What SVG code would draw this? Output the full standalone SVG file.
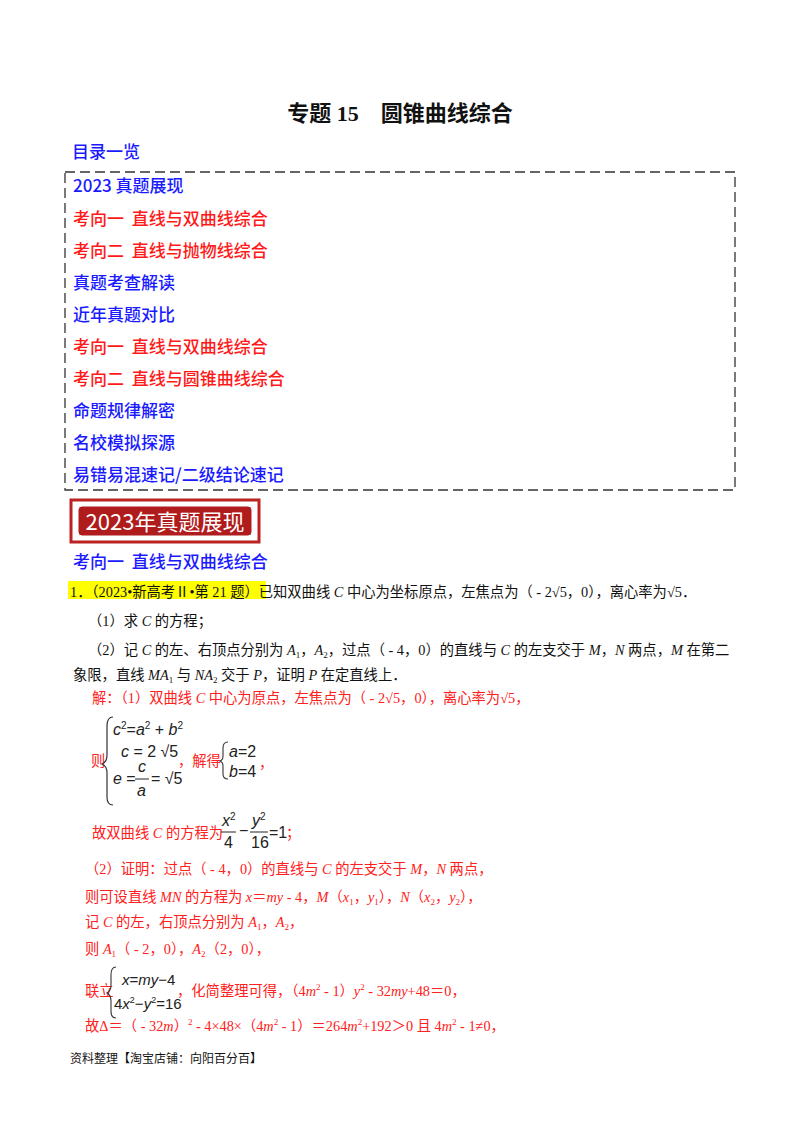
<svg xmlns="http://www.w3.org/2000/svg" width="800" height="1132" viewBox="0 0 800 1132">
<style>
text{font-family:"Liberation Serif","Noto Sans CJK SC",serif;}
.h{font-family:"Noto Sans CJK SC",sans-serif;font-size:17px;font-weight:500}
.b{fill:#1a1aff}.r{fill:#ff1a1a}
.t{font-size:14.3px;fill:#111}
.s{font-size:14.3px;fill:#ff2020}
.m{font-family:"Liberation Sans",sans-serif;font-size:16px;fill:#222}
.i{font-style:italic}
</style>
<rect width="800" height="1132" fill="#fff"/>
<g id="title"><text x="400" y="121" text-anchor="middle" style="font-family:'Liberation Serif','Noto Sans CJK SC',serif;font-size:22px;font-weight:bold" fill="#111">专题 15　圆锥曲线综合</text></g>
<g id="toc">
<text x="72" y="158" class="h b">目录一览</text>
<rect x="65" y="172" width="670" height="318" fill="none" stroke="#333" stroke-width="1.3" stroke-dasharray="10,5"/>
<text x="73" y="192" class="h b">2023 真题展现</text>
<text x="73" y="225" class="h r" xml:space="preserve">考向一  直线与双曲线综合</text>
<text x="73" y="257" class="h r" xml:space="preserve">考向二  直线与抛物线综合</text>
<text x="73" y="289" class="h b">真题考查解读</text>
<text x="73" y="321" class="h b">近年真题对比</text>
<text x="73" y="353" class="h r" xml:space="preserve">考向一  直线与双曲线综合</text>
<text x="73" y="385" class="h r" xml:space="preserve">考向二  直线与圆锥曲线综合</text>
<text x="73" y="417" class="h b">命题规律解密</text>
<text x="73" y="449" class="h b">名校模拟探源</text>
<text x="73" y="481" class="h b">易错易混速记/二级结论速记</text>
</g>
<g id="banner">
<rect x="71" y="500" width="188" height="42" fill="#fff" stroke="#b22" stroke-width="3"/>
<rect x="78" y="506" width="174" height="30" rx="4" fill="#b01c1c" stroke="#fff" stroke-width="1"/>
<text x="165" y="530" text-anchor="middle" style="font-family:'Noto Sans CJK SC',sans-serif;font-size:22px" fill="#fff">2023年真题展现</text>
</g>
<text x="73" y="568" class="h b" xml:space="preserve">考向一  直线与双曲线综合</text>
<g id="problem">
<rect x="68" y="581" width="198" height="18" fill="#ffff00"/>
<text x="70" y="597" class="t">1．（2023•新高考Ⅱ•第 21 题）已知双曲线 <tspan class="i">C</tspan> 中心为坐标原点，左焦点为（ - 2√5，0），离心率为√5．</text>
<text x="88" y="626" class="t">（1）求 <tspan class="i">C</tspan> 的方程；</text>
<text x="88" y="655" class="t">（2）记 <tspan class="i">C</tspan> 的左、右顶点分别为 <tspan class="i">A</tspan><tspan font-size="9" dy="3">1</tspan><tspan dy="-3">，</tspan><tspan class="i">A</tspan><tspan font-size="9" dy="3">2</tspan><tspan dy="-3">，过点（ - 4，0）的直线与 </tspan><tspan class="i">C</tspan> 的左支交于 <tspan class="i">M</tspan>，<tspan class="i">N</tspan> 两点，<tspan class="i">M</tspan> 在第二</text>
<text x="73" y="680" class="t">象限，直线 <tspan class="i">MA</tspan><tspan font-size="9" dy="3">1</tspan><tspan dy="-3"> 与 </tspan><tspan class="i">NA</tspan><tspan font-size="9" dy="3">2</tspan><tspan dy="-3"> 交于 </tspan><tspan class="i">P</tspan>，证明 <tspan class="i">P</tspan> 在定直线上．</text>
</g>
<g id="solution">
<text x="92" y="703" class="s">解：（1）双曲线 <tspan class="i">C</tspan> 中心为原点，左焦点为（ - 2√5，0），离心率为√5，</text>
<text x="91" y="766" class="s">则</text>
<path d="M113,717 Q107,717 107,726 L107,755 Q107,762 102,764 Q107,766 107,773 L107,797 Q107,805 113,805" fill="none" stroke="#333" stroke-width="1.2"/>
<text x="113" y="735" class="m"><tspan class="i">c</tspan><tspan font-size="10" dy="-6">2</tspan><tspan dy="6">=</tspan><tspan class="i">a</tspan><tspan font-size="10" dy="-6">2</tspan><tspan dy="6"> + </tspan><tspan class="i">b</tspan><tspan font-size="10" dy="-6">2</tspan></text>
<text x="121" y="757" class="m"><tspan class="i">c</tspan> = 2 √5</text>
<text x="113" y="784" class="m"><tspan class="i">e</tspan> =</text>
<text x="138" y="772" class="m i">c</text>
<line x1="135" y1="779" x2="149" y2="779" stroke="#222"/>
<text x="137" y="796" class="m i">a</text>
<text x="151" y="784" class="m">= √5</text>
<text x="178" y="766" class="s">，解得</text>
<path d="M228,742 Q223,742 223,748 L223,756 Q223,760 220,761 Q223,762 223,766 L223,774 Q223,779 228,779" fill="none" stroke="#333" stroke-width="1.1"/>
<text x="229" y="757" class="m"><tspan class="i">a</tspan>=2</text>
<text x="229" y="777" class="m"><tspan class="i">b</tspan>=4</text>
<text x="259" y="768" class="s">，</text>
<text x="92" y="838" class="s">故双曲线 <tspan class="i">C</tspan> 的方程为</text>
<text x="222" y="826" class="m i">x<tspan font-size="10" dy="-6" font-style="normal">2</tspan></text>
<line x1="221" y1="832" x2="236" y2="832" stroke="#222"/>
<text x="224" y="848" class="m">4</text>
<text x="239" y="836" class="m">−</text>
<text x="252" y="826" class="m i">y<tspan font-size="10" dy="-6" font-style="normal">2</tspan></text>
<line x1="250" y1="832" x2="268" y2="832" stroke="#222"/>
<text x="251" y="848" class="m">16</text>
<text x="269" y="838" class="m">=1</text>
<text x="286" y="838" class="s">；</text>
<text x="85" y="874" class="s">（2）证明：过点（ - 4，0）的直线与 <tspan class="i">C</tspan> 的左支交于 <tspan class="i">M</tspan>，<tspan class="i">N</tspan> 两点，</text>
<text x="85" y="902" class="s">则可设直线 <tspan class="i">MN</tspan> 的方程为 <tspan class="i">x</tspan>＝<tspan class="i">my</tspan> - 4，<tspan class="i">M</tspan>（<tspan class="i">x</tspan><tspan font-size="9" dy="3">1</tspan><tspan dy="-3">，</tspan><tspan class="i">y</tspan><tspan font-size="9" dy="3">1</tspan><tspan dy="-3">），</tspan><tspan class="i">N</tspan>（<tspan class="i">x</tspan><tspan font-size="9" dy="3">2</tspan><tspan dy="-3">，</tspan><tspan class="i">y</tspan><tspan font-size="9" dy="3">2</tspan><tspan dy="-3">），</tspan></text>
<text x="85" y="927" class="s">记 <tspan class="i">C</tspan> 的左，右顶点分别为 <tspan class="i">A</tspan><tspan font-size="9" dy="3">1</tspan><tspan dy="-3">，</tspan><tspan class="i">A</tspan><tspan font-size="9" dy="3">2</tspan><tspan dy="-3">，</tspan></text>
<text x="85" y="954" class="s">则 <tspan class="i">A</tspan><tspan font-size="9" dy="3">1</tspan><tspan dy="-3">（ - 2，0），</tspan><tspan class="i">A</tspan><tspan font-size="9" dy="3">2</tspan><tspan dy="-3">（2，0），</tspan></text>
<text x="85" y="996" class="s">联立</text>
<path d="M116,967 Q111,967 111,975 L111,985 Q111,991 107,993 Q111,995 111,1001 L111,1011 Q111,1018 116,1018" fill="none" stroke="#333" stroke-width="1.1"/>
<text x="122" y="985" class="m" style="font-size:15px"><tspan class="i">x</tspan>=<tspan class="i">my</tspan>−4</text>
<text x="114" y="1009" class="m" style="font-size:15px">4<tspan class="i">x</tspan><tspan font-size="9" dy="-6">2</tspan><tspan dy="6">−</tspan><tspan class="i">y</tspan><tspan font-size="9" dy="-6">2</tspan><tspan dy="6">=16</tspan></text>
<text x="177" y="996" class="s">，化简整理可得，（4<tspan class="i">m</tspan><tspan font-size="9" dy="-6">2</tspan><tspan dy="6"> - 1）</tspan><tspan class="i">y</tspan><tspan font-size="9" dy="-6">2</tspan><tspan dy="6"> - 32</tspan><tspan class="i">my</tspan>+48＝0，</text>
<text x="85" y="1031" class="s">故Δ＝（ - 32<tspan class="i">m</tspan>）<tspan font-size="9" dy="-6">2</tspan><tspan dy="6"> - 4×48×（4</tspan><tspan class="i">m</tspan><tspan font-size="9" dy="-6">2</tspan><tspan dy="6"> - 1）＝264</tspan><tspan class="i">m</tspan><tspan font-size="9" dy="-6">2</tspan><tspan dy="6">+192＞0 且 4</tspan><tspan class="i">m</tspan><tspan font-size="9" dy="-6">2</tspan><tspan dy="6"> - 1≠0，</tspan></text>
</g>
<text x="70" y="1063" style="font-size:12px" fill="#111">资料整理【淘宝店铺：向阳百分百】</text>
</svg>
